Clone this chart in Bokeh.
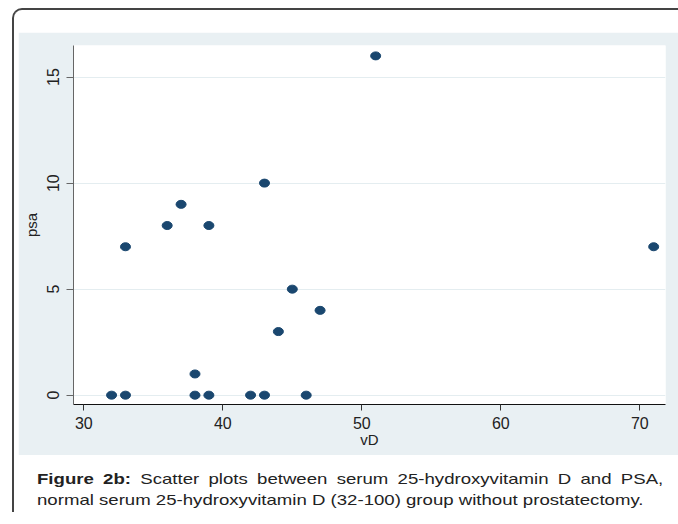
from bokeh.plotting import figure
from bokeh.models import FixedTicker, Div
from bokeh.layouts import column
from bokeh.embed import file_html
from bokeh.resources import INLINE

# data
vd = [32, 33, 38, 39, 42, 43, 46, 38, 44, 47, 45, 33, 36, 39, 37, 43, 51, 71]
psa = [0, 0, 0, 0, 0, 0, 0, 1, 3, 4, 5, 7, 8, 8, 9, 10, 16, 7]
x_ticks = [30, 40, 50, 60, 70]
y_ticks = [0, 5, 10, 15]
x_label = "vD"
y_label = "psa"
caption_bold = "Figure 2b:"
caption_line1 = "Scatter plots between serum 25-hydroxyvitamin D and PSA,"
caption_line2 = "normal serum 25-hydroxyvitamin D (32-100) group without prostatectomy."

PANEL = "#e9f0f3"
NAVY = "#1a476f"
FONT = "Liberation Sans"

p = figure(width=660, height=423,
           x_range=(29.26, 71.85), y_range=(-0.44, 16.49),
           output_backend="svg", toolbar_location=None,
           min_border_left=55, min_border_right=13,
           min_border_top=13, min_border_bottom=51,
           margin=(22, 0, 0, 4))
p.background_fill_color = "white"
p.border_fill_color = PANEL
p.outline_line_color = None

p.ellipse(x=vd, y=psa, width=10, height=8,
          width_units="screen", height_units="screen",
          fill_color=NAVY, line_color=NAVY)

p.xgrid.visible = False
p.ygrid.grid_line_color = "#e4edf0"
p.ygrid.grid_line_width = 1
p.ygrid.ticker = FixedTicker(ticks=y_ticks)

p.xaxis.ticker = FixedTicker(ticks=x_ticks)
p.yaxis.ticker = FixedTicker(ticks=y_ticks)
p.xaxis.axis_label = x_label
p.yaxis.axis_label = y_label

for ax in (p.xaxis, p.yaxis):
    ax.minor_tick_line_color = None
    ax.major_label_text_font = FONT
    ax.major_label_text_font_size = "16px"
    ax.major_label_text_color = "#222222"
    ax.axis_label_text_font = FONT
    ax.axis_label_text_font_size = "15px"
    ax.axis_label_text_font_style = "normal"
    ax.axis_label_text_color = "#222222"
    ax.major_tick_in = 0

p.xaxis.axis_line_color = "#111111"
p.xaxis.major_tick_line_color = "#333333"
p.xaxis.major_tick_out = 6
p.xaxis.major_label_standoff = 6
p.xaxis.axis_label_standoff = -1

p.yaxis.axis_line_color = "#666666"
p.yaxis.major_tick_line_color = "#666666"
p.yaxis.major_tick_out = 7
p.yaxis.major_label_orientation = "vertical"
p.yaxis.major_label_standoff = 7
p.yaxis.axis_label_standoff = 5

base = ("font-family: 'Liberation Sans', Arial, sans-serif; font-size:15px; "
        "line-height:21px; color:#222; white-space:nowrap; "
        "transform:scaleX(1.24); transform-origin:0 0;")
cap_html = (
    f'<div style="{base} width:505px; text-align:justify; text-align-last:justify;">'
    f'<b>{caption_bold}</b> {caption_line1}</div>'
    f'<div style="{base}">{caption_line2}</div>'
)
cap = Div(text=cap_html, width=630, height=44, margin=(13, 0, 0, 23))

layout = column(p, cap, margin=(8, 0, 0, 12),
                styles={"border-top": "2px solid #444444",
                        "border-left": "2px solid #444444",
                        "border-top-left-radius": "10px",
                        "background-color": "white"})

open("out.html", "w").write(file_html(layout, INLINE))
